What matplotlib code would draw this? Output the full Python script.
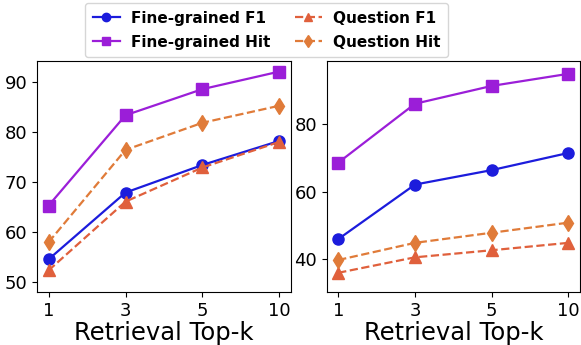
import matplotlib
matplotlib.use("Agg")
import matplotlib.pyplot as plt

topk = ["1", "3", "5", "10"]

left_fg_f1 = [54.6, 67.9, 73.4, 78.2]
left_fg_hit = [65.3, 83.3, 88.5, 92.0]
left_q_f1 = [52.4, 66.1, 72.9, 78.0]
left_q_hit = [58.0, 76.4, 81.8, 85.2]

right_fg_f1 = [45.9, 62.1, 66.4, 71.5]
right_fg_hit = [68.6, 86.1, 91.4, 95.0]
right_q_f1 = [35.9, 40.5, 42.6, 44.8]
right_q_hit = [39.7, 44.8, 47.8, 50.8]

c_fg_f1 = "#1c1cdc"
c_fg_hit = "#9b1ed8"
c_q_f1 = "#e0603c"
c_q_hit = "#e07b39"

W, H = 581, 345
fig = plt.figure(figsize=(W / 100, H / 100), dpi=100)
ax1 = fig.add_axes([37 / W, 53 / H, 254 / W, 231 / H])
ax2 = fig.add_axes([326.7 / W, 53 / H, 253.3 / W, 231 / H])

x = list(range(len(topk)))

def draw(ax, f1, hit, qf1, qhit):
    ax.plot(x, f1, color=c_fg_f1, marker="o", ms=8, lw=1.6, label="Fine-grained F1")
    ax.plot(x, hit, color=c_fg_hit, marker="s", ms=8, lw=1.6, label="Fine-grained Hit")
    ax.plot(x, qf1, color=c_q_f1, marker="^", ms=8, lw=1.6, ls="--", label="Question F1")
    ax.plot(x, qhit, color=c_q_hit, marker="d", ms=8, lw=1.6, ls="--", label="Question Hit")
    ax.set_xticks(x)
    ax.set_xticklabels(topk)
    ax.tick_params(labelsize=13)
    ax.set_xlabel("Retrieval Top-k", fontsize=17.5, labelpad=1)
    ax.set_xlim(-0.15, 3.15)

draw(ax1, left_fg_f1, left_fg_hit, left_q_f1, left_q_hit)
draw(ax2, right_fg_f1, right_fg_hit, right_q_f1, right_q_hit)
ax1.set_ylim(48.1, 94.1)
ax1.set_yticks([50, 60, 70, 80, 90])
ax2.set_ylim(30.2, 98.8)
ax2.set_yticks([40, 60, 80])

handles, labels = ax1.get_legend_handles_labels()
fig.legend(handles, labels, loc="upper center", bbox_to_anchor=(266.5 / W, 1 - 3 / H),
           ncol=2, prop={"weight": "bold", "size": 11}, frameon=True, markerscale=0.75,
           handlelength=1.8, handletextpad=0.7, columnspacing=1.6,
           borderpad=0.5, labelspacing=0.6, borderaxespad=0)

fig.savefig("out.png", dpi=100)
